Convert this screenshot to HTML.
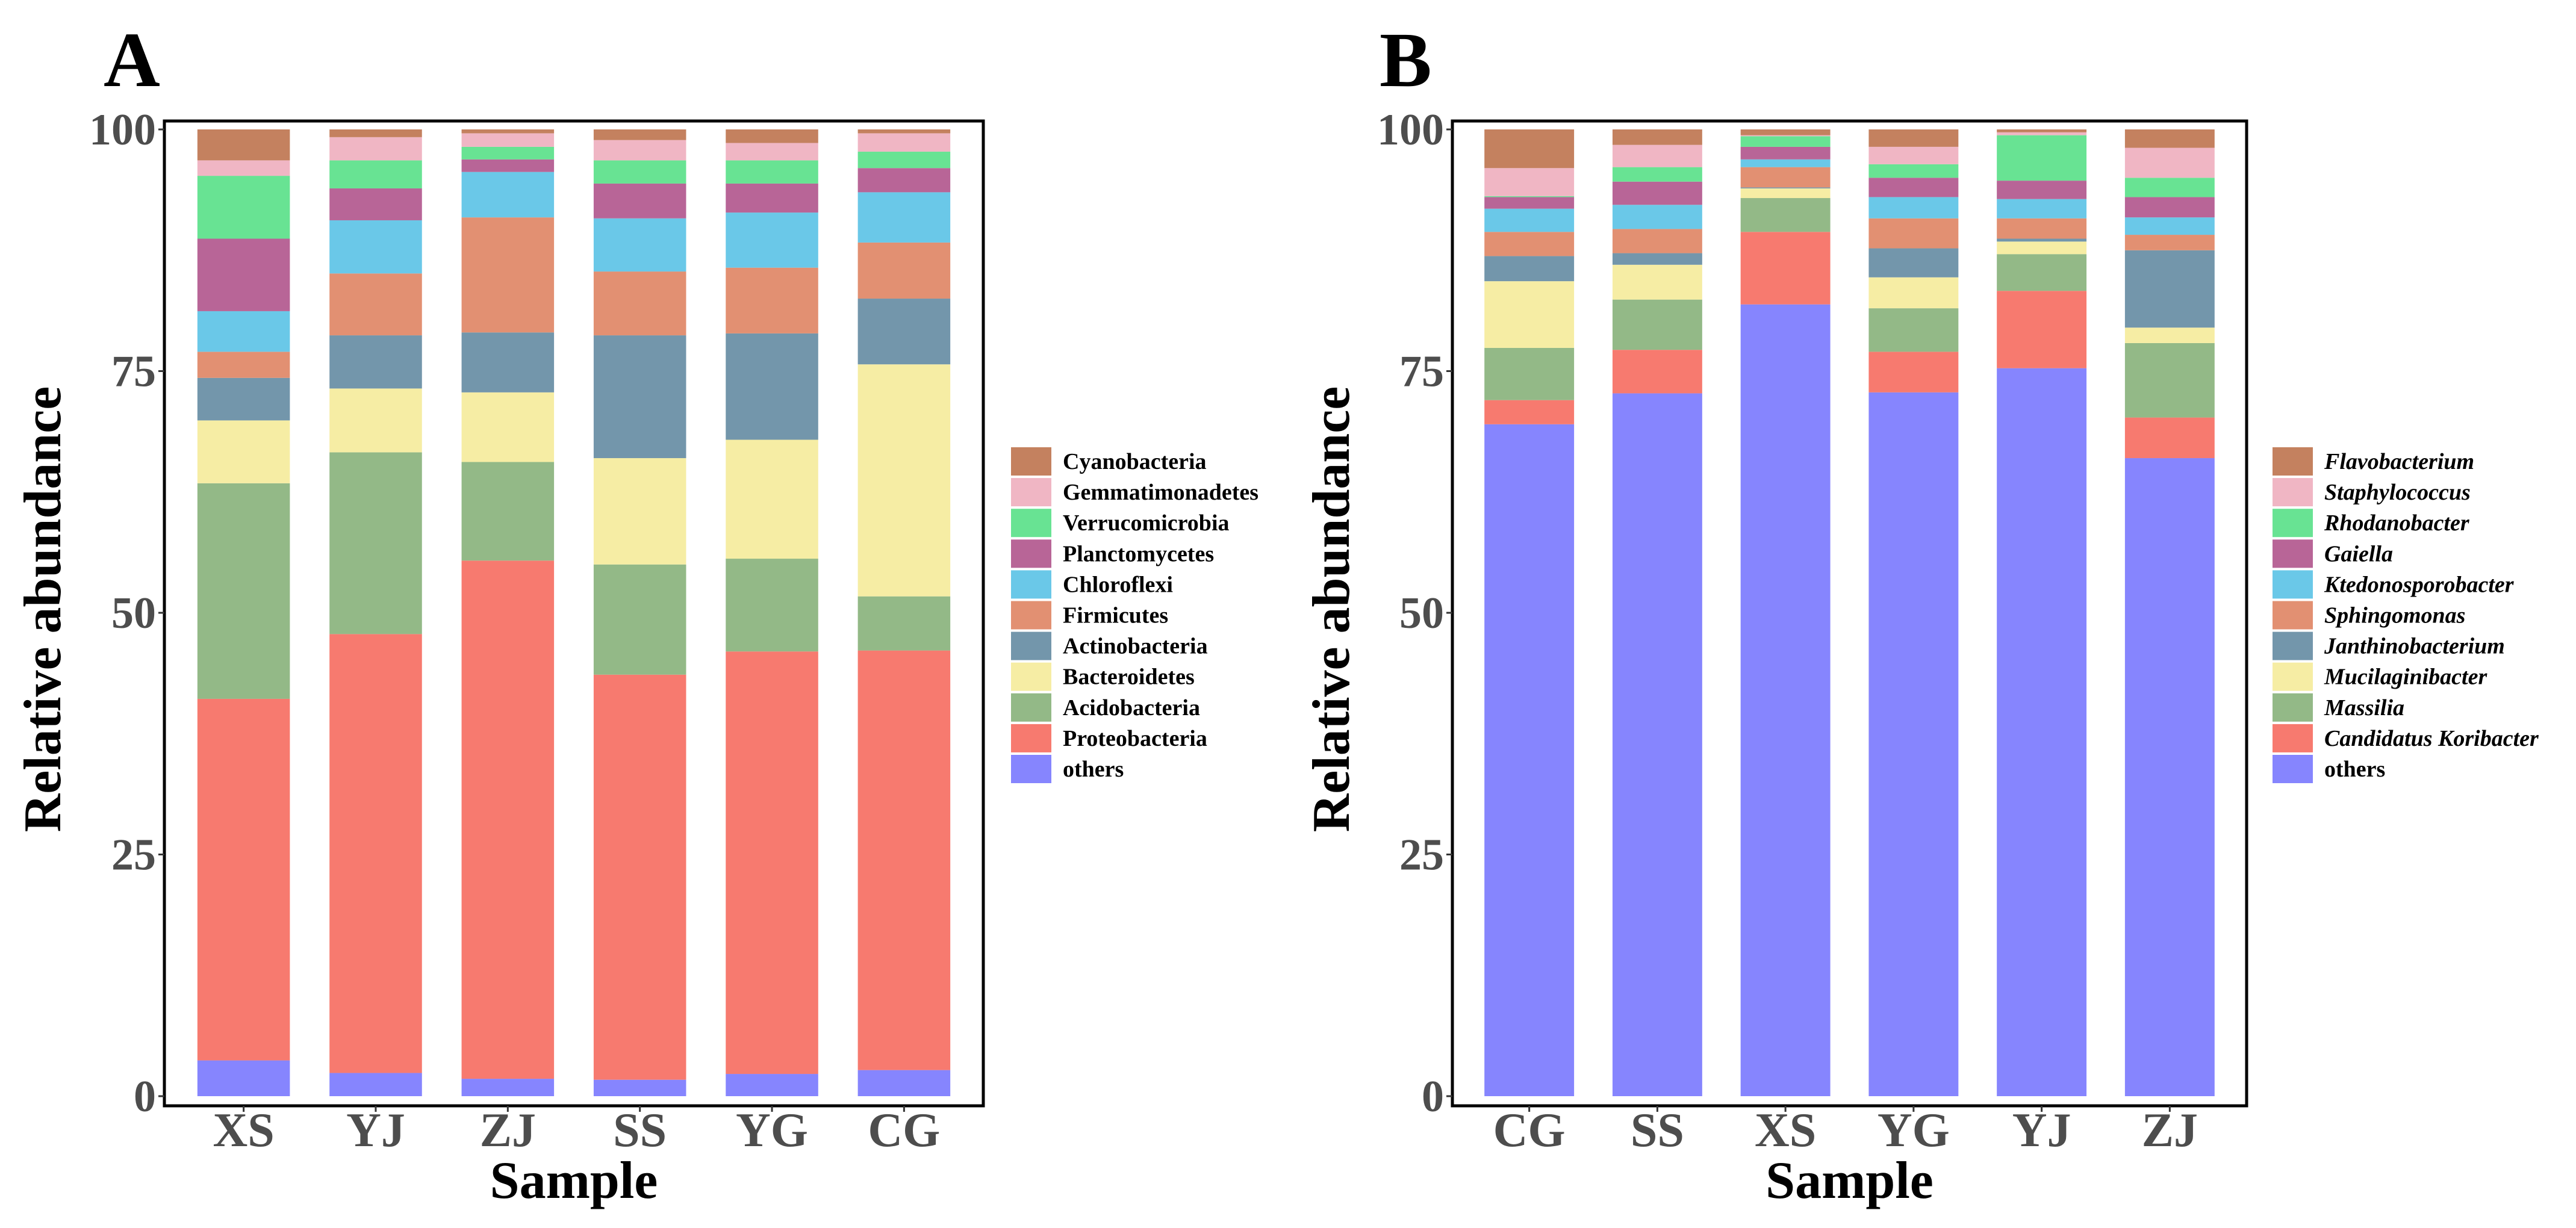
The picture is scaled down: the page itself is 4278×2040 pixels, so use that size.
<!DOCTYPE html>
<html><head><meta charset="utf-8"><style>
html,body{margin:0;padding:0;background:#fff;}
svg{display:block;font-family:"Liberation Serif",serif;}
</style></head><body>
<svg id="fig" width="4278" height="2040" viewBox="0 0 4278 2040" xmlns="http://www.w3.org/2000/svg"></svg>
<script>
// ---- Panel A data ----
const samplesA = ["XS","YJ","ZJ","SS","YG","CG"];
const taxaA = ["others","Proteobacteria","Acidobacteria","Bacteroidetes","Actinobacteria","Firmicutes","Chloroflexi","Planctomycetes","Verrucomicrobia","Gemmatimonadetes","Cyanobacteria"];
const othersA = [3.7,2.4,1.8,1.7,2.3,2.7];
const proteoA = [37.4,45.4,53.6,41.9,43.7,43.4];
const acidoA = [22.3,18.8,10.2,11.4,9.6,5.6];
const bacteroA = [6.5,6.6,7.2,11.0,12.3,24.0];
const actinoA = [4.4,5.5,6.2,12.7,11.0,6.8];
const firmA = [2.7,6.4,11.9,6.6,6.8,5.8];
const chloroA = [4.2,5.5,4.7,5.5,5.7,5.2];
const planctoA = [7.5,3.3,1.3,3.6,3.0,2.5];
const verrucoA = [6.5,2.9,1.3,2.4,2.4,1.7];
const gemmaA = [1.6,2.4,1.4,2.1,1.8,1.9];
const cyanoA = [3.2,0.8,0.4,1.1,1.4,0.4];
// ---- Panel B data ----
const samplesB = ["CG","SS","XS","YG","YJ","ZJ"];
const taxaB = ["others","Candidatus Koribacter","Massilia","Mucilaginibacter","Janthinobacterium","Sphingomonas","Ktedonosporobacter","Gaiella","Rhodanobacter","Staphylococcus","Flavobacterium"];
const othersB = [69.5,72.7,81.9,72.8,75.3,66.0];
const candB = [2.5,4.5,7.5,4.2,8.0,4.2];
const massB = [5.4,5.2,3.5,4.5,3.8,7.7];
const mucB = [6.9,3.6,1.0,3.2,1.3,1.6];
const janB = [2.6,1.2,0.1,3.0,0.3,8.0];
const sphB = [2.5,2.5,2.1,3.1,2.1,1.6];
const ktedB = [2.4,2.5,0.8,2.2,2.0,1.8];
const gaiB = [1.2,2.4,1.3,2.0,1.9,2.1];
const rhodB = [0.1,1.5,1.1,1.4,4.7,2.0];
const staphB = [2.9,2.3,0.1,1.8,0.3,3.1];
const flavoB = [4.0,1.6,0.6,1.8,0.3,1.9];
const yTicks = [0,25,50,75,100];
const colors = ["#8685fe","#f77a6f","#93b987","#f6eda4","#7396ab","#e29072","#6ac8e8","#b86597","#68e393","#f0b6c4","#c4815f"];

const NS="http://www.w3.org/2000/svg";
const svg=document.getElementById('fig');
function mk(tag,attrs,parent,text){const e=document.createElementNS(NS,tag);for(const k in attrs)e.setAttribute(k,attrs[k]);if(text!==undefined)e.textContent=text;(parent||svg).appendChild(e);return e;}

function panel(cfg){
  const g=mk('g',{});
  
  
  const L=cfg.left,R=cfg.right,T=201,B=1837;
  const y0=1821,y100=215;
  const ys=v=>y0-(v/100)*(y0-y100);
  const unit=(R-L)/6.2;
  const xs=i=>L+unit*(0.6+i);
  const bw=unit*0.7;
  cfg.samples.forEach((s,i)=>{
    let acc=0;
    cfg.series.forEach((arr,k)=>{
      const v=arr[i];
      const r=mk('rect',{x:xs(i)-bw/2,y:ys(acc+v),width:bw,height:Math.max(0,ys(acc)-ys(acc+v)),fill:colors[k]},g);
      
      
      acc+=v;
    });
  });
  const box=mk('rect',{x:L,y:T,width:R-L,height:B-T,fill:'none',stroke:'#000','stroke-width':5},g);
  
  
  yTicks.forEach(t=>{
    const ln=mk('line',{x1:L-10,x2:L,y1:ys(t),y2:ys(t),stroke:'#333','stroke-width':3},g);
    
    
    const tx=mk('text',{x:L-14,y:ys(t)+25,'text-anchor':'end','font-size':74,'font-weight':'bold',fill:'#4d4d4d'},g,String(t));
    
    
  });
  cfg.samples.forEach((s,i)=>{
    const ln=mk('line',{x1:xs(i),x2:xs(i),y1:B,y2:B+10,stroke:'#333','stroke-width':3},g);
    
    
    const tx=mk('text',{x:xs(i),y:1904,'text-anchor':'middle','font-size':80,'font-weight':'bold',fill:'#4d4d4d'},g,s);
    
    
  });
  const xt=mk('text',{x:(L+R)/2,y:1990,'text-anchor':'middle','font-size':88,'font-weight':'bold',fill:'#000'},g,'Sample');
  
  
  const yt=mk('text',{x:0,y:0,'text-anchor':'middle','font-size':88,'font-weight':'bold',fill:'#000',transform:'translate('+(cfg.ytx)+',1012) rotate(-90)'},g,'Relative abundance');
  
  
  const lab=mk('text',{x:cfg.labx,y:143,'font-size':130,'font-weight':'bold',fill:'#000'},g,cfg.label);
  
  
  const n=cfg.taxa.length;
  for(let j=0;j<n;j++){
    const k=n-1-j;
    const cy=766+51.1*j;
    const key=mk('rect',{x:cfg.legx,y:cy-23,width:67,height:47,fill:colors[k]},g);
    
    
    const italic = cfg.italic && cfg.taxa[k]!=='others';
    const tx=mk('text',{x:cfg.legx+86,y:cy+13,'font-size':38,'font-weight':'bold','font-style':italic?'italic':'normal',fill:'#000'},g,cfg.taxa[k]);
    
    
  }
}
panel({id:'a',label:'A',labx:172,left:273,right:1633,ytx:100,legx:1679,samples:samplesA,taxa:taxaA,italic:false,
  series:[othersA,proteoA,acidoA,bacteroA,actinoA,firmA,chloroA,planctoA,verrucoA,gemmaA,cyanoA]});
panel({id:'b',label:'B',labx:2291,left:2412,right:3731,ytx:2240,legx:3774,samples:samplesB,taxa:taxaB,italic:true,
  series:[othersB,candB,massB,mucB,janB,sphB,ktedB,gaiB,rhodB,staphB,flavoB]});
</script>
</body></html>
